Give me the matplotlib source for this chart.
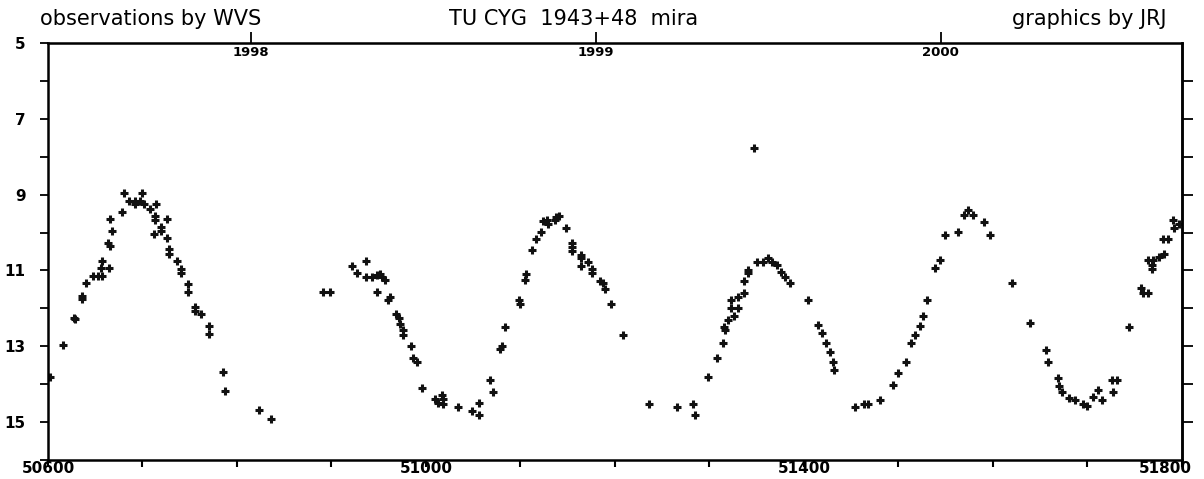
import numpy as np
import matplotlib
matplotlib.use("Agg")
import matplotlib.pyplot as plt
from matplotlib.transforms import ScaledTranslation

# Julian date - 2400000 and visual magnitude
jd = [50602, 50616, 50628, 50629, 50636, 50636, 50640, 50648, 50653, 50657,
      50657, 50656, 50665, 50663, 50666, 50668, 50666, 50678, 50680, 50686,
      50692, 50692, 50699, 50697, 50702, 50708, 50714, 50713, 50713, 50712,
      50720, 50720, 50726, 50726, 50728, 50728, 50736, 50741, 50741, 50748,
      50748, 50756, 50756, 50762, 50770, 50770, 50785, 50787, 50823, 50836,
      50891, 50898, 50922, 50927, 50937, 50937, 50943, 50948, 50951, 50953,
      50957, 50948, 50962, 50960, 50968, 50971, 50972, 50976, 50976, 50984,
      50986, 50990, 50996, 51010, 51017, 51018, 51013, 51018, 51034, 51049,
      51056, 51056, 51068, 51071, 51078, 51080, 51084,
      51098, 51099, 51105, 51106, 51112, 51116, 51122, 51124, 51128, 51129,
      51137, 51138, 51141, 51148, 51154, 51154, 51154, 51164, 51164, 51164,
      51171, 51176, 51176, 51184, 51187, 51189, 51196, 51208, 51236, 51266,
      51283, 51285, 51298, 51308, 51314, 51315, 51316, 51320, 51326, 51323,
      51330, 51323, 51330, 51337, 51336, 51341, 51341, 51347,
      51350, 51357, 51362, 51366, 51371, 51376, 51380, 51385, 51404, 51415,
      51419, 51423, 51427, 51431, 51432,
      51454, 51463, 51468, 51480, 51494, 51500, 51508, 51513, 51517, 51523,
      51526, 51530, 51539, 51544, 51549, 51563, 51569, 51574, 51579, 51591,
      51597, 51620, 51639, 51656, 51658, 51669, 51670, 51673, 51680, 51687,
      51695, 51699, 51706, 51711, 51715, 51726, 51731, 51727, 51744,
      51757, 51759, 51764, 51764, 51769, 51768, 51768, 51776, 51781, 51780,
      51785, 51790, 51792, 51797]
mag = [13.8, 12.97, 12.26, 12.28, 11.67, 11.75, 11.33, 11.15, 11.15, 11.15,
       10.74, 10.94, 10.94, 10.27, 10.36, 9.95, 9.65, 9.46, 8.97, 9.17,
       9.17, 9.25, 8.97, 9.17, 9.26, 9.37, 9.26, 9.56, 9.67, 10.05,
       9.86, 9.97, 9.65, 10.15, 10.44, 10.57, 10.75, 10.95, 11.06, 11.36,
       11.57, 11.96, 12.06, 12.16, 12.47, 12.68, 13.68, 14.19, 14.69, 14.91,
       11.58, 11.58, 10.87, 11.07, 10.76, 11.17, 11.17, 11.12, 11.09, 11.17,
       11.26, 11.58, 11.69, 11.78, 12.15, 12.26, 12.4, 12.57, 12.7, 12.98,
       13.3, 13.41, 14.1, 14.4, 14.29, 14.4, 14.5, 14.52, 14.6, 14.7,
       14.5, 14.82, 13.9, 14.2, 13.08, 13.0, 12.49,
       11.78, 11.89, 11.25, 11.1, 10.46, 10.18, 9.98, 9.69, 9.67, 9.78,
       9.67, 9.58, 9.57, 9.88, 10.27, 10.38, 10.48, 10.58, 10.68, 10.88,
       10.77, 10.96, 11.08, 11.27, 11.33, 11.49, 11.88, 12.69, 14.52, 14.61,
       14.52, 14.82, 13.8, 13.32, 12.91, 12.5, 12.57, 12.31, 12.19, 12.0,
       12.0, 11.79, 11.69, 11.59, 11.28, 10.99, 11.08, 7.77,
       10.78, 10.78, 10.67, 10.78, 10.86, 11.04, 11.17, 11.33, 11.78, 12.44,
       12.65, 12.92, 13.15, 13.42, 13.63,
       14.6, 14.52, 14.52, 14.42, 14.02, 13.7, 13.42, 12.92, 12.7, 12.47,
       12.2, 11.78, 10.94, 10.73, 10.07, 9.98, 9.54, 9.41, 9.54, 9.72,
       10.07, 11.33, 12.39, 13.1, 13.42, 13.84, 14.05, 14.2, 14.37, 14.42,
       14.52, 14.58, 14.34, 14.16, 14.42, 13.89, 13.89, 14.2, 12.48,
       11.46, 11.6, 11.6, 10.73, 10.73, 10.86, 10.97, 10.65, 10.57, 10.18,
       10.18, 9.67, 9.88, 9.77]

x_ticks = [50600, 50700, 50800, 50900, 51000, 51100, 51200, 51300, 51400,
           51500, 51600, 51700, 51800]
x_labels = ["50600", "", "", "", "51000", "", "", "", "51400", "", "", "", "51800"]
years = [50814.5, 51179.5, 51544.5]
year_labels = ["1998", "1999", "2000"]
y_major = [5, 7, 9, 11, 13, 15]

fig = plt.figure(figsize=(12.04, 4.79), dpi=100)
ax = fig.add_axes([48/1204, 1 - 460/479, (1182-48)/1204, (460-43)/479])

ax.plot(jd, mag, linestyle="none", marker="+", markersize=5.5, mew=2.2, color="#111111")

ax.set_xlim(50600, 51800)
ax.set_ylim(16, 5)

ax.set_xticks(x_ticks)
ax.set_xticklabels(x_labels, fontsize=11, fontweight="bold")
ax.set_yticks(y_major)
ax.set_yticks(range(5, 17), minor=True)
ax.set_yticklabels([str(v) for v in y_major], fontsize=11, fontweight="bold")
ax.tick_params(axis="x", direction="out", length=5, width=1.5, pad=-4)
ax.tick_params(axis="y", which="both", direction="out", length=6, width=1.3, pad=10)

# last label sits left of the axis end so it stays on the page
last = ax.get_xticklabels()[-1]
last.set_ha("right")
last.set_transform(last.get_transform() + ScaledTranslation(10/100, 0, fig.dpi_scale_trans))

# right side ticks (no labels)
ry = ax.secondary_yaxis("right")
ry.set_yticks(range(6, 16))
ry.set_yticklabels([])
ry.tick_params(direction="out", length=8, width=1.3)
ry.spines["right"].set_linewidth(1.8)

# top axis: calendar years
tx = ax.secondary_xaxis("top")
tx.set_xticks(years)
tx.set_xticklabels([])
tx.tick_params(direction="out", length=8, width=1.3)
for yr, lab in zip(years, year_labels):
    ax.text(yr, 5.25, lab, ha="center", va="center", fontsize=9.5, fontweight="bold")

for s in ax.spines.values():
    s.set_linewidth(1.8)

fig.text(40/1204, 1 - 19/479, "observations by WVS", fontsize=15, va="center", ha="left")
fig.text(574/1204, 1 - 19/479, "TU CYG  1943+48  mira", fontsize=15, va="center", ha="center")
fig.text(1166/1204, 1 - 19/479, "graphics by JRJ", fontsize=15, va="center", ha="right")

fig.savefig("out.png", dpi=100)
